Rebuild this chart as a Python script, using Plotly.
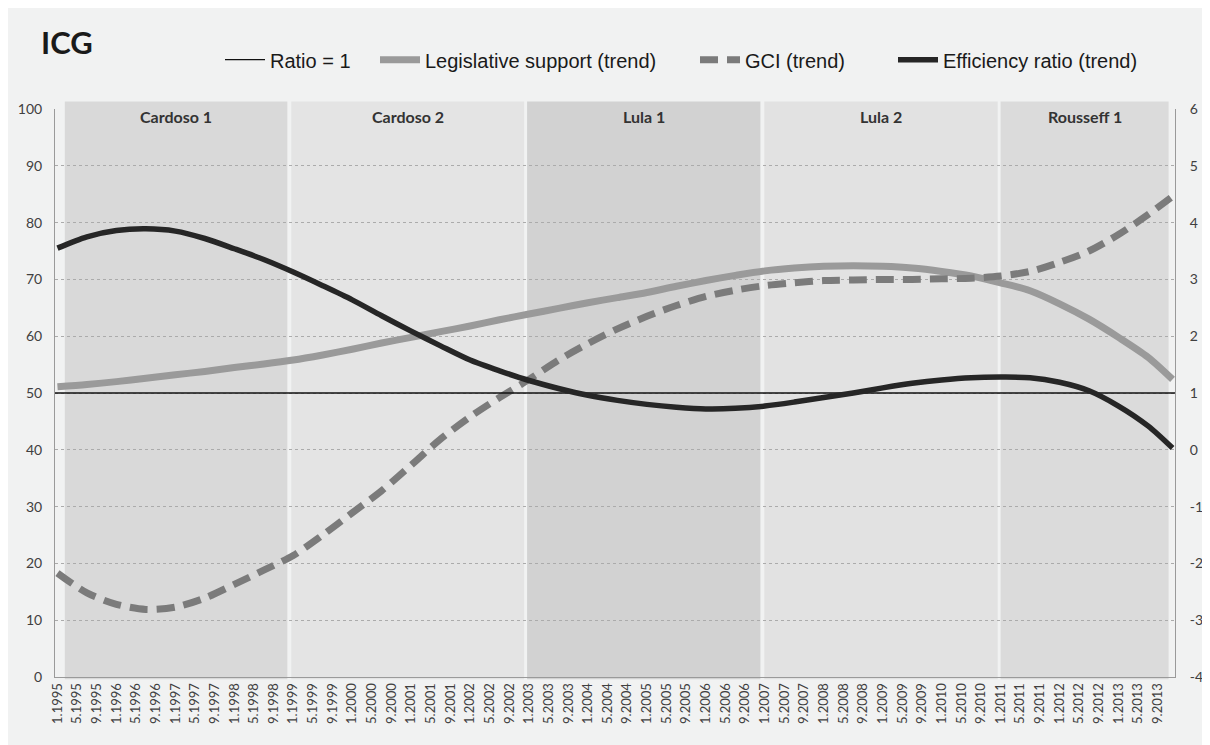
import plotly.graph_objects as go

# ---- data (x = month offset from Jan 1995) ----
month_idx = [0, 6, 12, 18, 24, 30, 36, 42, 48, 54, 60, 66, 72, 78, 84, 90, 96, 102, 108,
             114, 120, 126, 132, 138, 144, 150, 156, 162, 168, 174, 180, 186, 192, 198,
             204, 210, 216, 222, 227]

legislative_support = [51.1, 51.5, 52.0, 52.6, 53.2, 53.8, 54.5, 55.1, 55.8, 56.7, 57.7,
                       58.8, 59.8, 60.8, 61.8, 62.9, 63.9, 64.9, 65.9, 66.8, 67.7, 68.8,
                       69.8, 70.7, 71.5, 72.0, 72.3, 72.4, 72.3, 72.0, 71.4, 70.6, 69.4,
                       68.0, 65.7, 63.0, 59.8, 56.3, 52.4]

gci = [18.3, 14.8, 12.8, 11.9, 12.3, 13.9, 16.3, 18.8, 21.4, 25.0, 28.9, 32.8, 37.3, 41.9,
       45.8, 49.2, 52.4, 55.8, 58.7, 61.3, 63.5, 65.4, 67.0, 68.1, 68.9, 69.4, 69.8, 69.9,
       70.0, 70.0, 70.1, 70.2, 70.6, 71.4, 73.0, 75.0, 77.9, 81.4, 84.6]

efficiency_ratio = [3.55, 3.75, 3.86, 3.89, 3.85, 3.72, 3.54, 3.35, 3.13, 2.89, 2.64, 2.36,
                    2.09, 1.83, 1.58, 1.39, 1.22, 1.08, 0.96, 0.87, 0.80, 0.75, 0.72, 0.73,
                    0.77, 0.84, 0.92, 1.00, 1.09, 1.17, 1.23, 1.27, 1.28, 1.27, 1.19, 1.04,
                    0.77, 0.42, 0.03]

ratio_value = 1

years = list(range(1995, 2014))
tick_months = [1, 5, 9]
tick_labels = [f"{m}.{y}" for y in years for m in tick_months]
tick_positions = list(range(0, 4 * len(tick_labels), 4))

right_ticks = [-4, -3, -2, -1, 0, 1, 2, 3, 4, 5, 6]
right_tick_labels = ["-4", "-3", "-2", "-1", "0", "1", "2", "3", "4", "5", "6"]

terms = ["Cardoso 1", "Cardoso 2", "Lula 1", "Lula 2", "Rousseff 1"]
term_start = [1.5, 47.6, 95.6, 143.9, 192.0]
term_end = [46.8, 95.0, 143.1, 191.4, 226.2]
term_colors = ["#d9d9d9", "#e4e4e4", "#d2d2d2", "#e2e2e2", "#dbdbdb"]

BG = "#f1f2f2"
TICKFONT = dict(family="Lato, Open Sans, sans-serif", size=14, color="#404040")
LEGFONT = dict(family="Liberation Sans Narrow, Arial Narrow, Liberation Sans, sans-serif",
               size=20, color="#1a1a1a")

# figure-pixel geometry of the plot area (page is offset by the 8px body margin)
L, R, T, B, W, H = 47, 35, 101.3, 67.5, 1202, 737
PW = W - L - R
PH = H - T - B


def px_x(fx):
    return (fx - L) / PW


def px_y(fy):
    return (H - B - fy) / PH


fig = go.Figure()

fig.add_trace(go.Scatter(
    x=[-0.5, 227.5], y=[ratio_value, ratio_value], yaxis="y2", mode="lines",
    line=dict(color="#111111", width=1.3), name="Ratio = 1", legend="legend"))
fig.add_trace(go.Scatter(
    x=month_idx, y=legislative_support, mode="lines",
    line=dict(color="#9a9a9a", width=7, shape="spline", smoothing=0.8),
    name="Legislative support (trend)", legend="legend2"))
fig.add_trace(go.Scatter(
    x=month_idx, y=gci, mode="lines",
    line=dict(color="#7b7b7b", width=7, dash="18px,9px", shape="spline", smoothing=0.8),
    name="GCI (trend)", legend="legend3"))
fig.add_trace(go.Scatter(
    x=month_idx, y=efficiency_ratio, yaxis="y2", mode="lines",
    line=dict(color="#262626", width=5.5, shape="spline", smoothing=0.8),
    name="Efficiency ratio (trend)", legend="legend4"))

shapes = []
for s, e, c in zip(term_start, term_end, term_colors):
    shapes.append(dict(type="rect", xref="x", yref="paper", x0=s, x1=e,
                       y0=-0.004, y1=1.013, fillcolor=c, line=dict(width=0),
                       layer="below"))

annotations = [dict(text="<b>ICG</b>", xref="paper", yref="paper",
                    x=px_x(31), y=px_y(34),
                    xanchor="left", yanchor="middle", showarrow=False,
                    font=dict(family="Lato, sans-serif", size=31, color="#1a1a1a"))]
for t, s, e in zip(terms, term_start, term_end):
    annotations.append(dict(text=f"<b>{t}</b>", xref="x", yref="paper",
                            x=(s + e) / 2, y=px_y(109),
                            xanchor="center", yanchor="middle", showarrow=False,
                            font=dict(family="Lato, sans-serif", size=16, color="#333333")))


def leg(fx):
    return dict(orientation="h", x=px_x(fx), y=px_y(52), xanchor="left",
                yanchor="middle", bgcolor="rgba(0,0,0,0)", font=LEGFONT, itemwidth=40)


fig.update_layout(
    width=W, height=H,
    margin=dict(l=L, r=R, t=T, b=B, autoexpand=False),
    paper_bgcolor=BG, plot_bgcolor=BG,
    shapes=shapes, annotations=annotations,
    showlegend=True,
    legend=leg(212), legend2=leg(367), legend3=leg(687), legend4=leg(885),
    xaxis=dict(range=[-0.5, 227.5], tickvals=tick_positions, ticktext=tick_labels,
               tickangle=-90, showgrid=False, zeroline=False, showline=True,
               linecolor="#9a9a9a", linewidth=1, ticks="", automargin=False,
               tickfont=dict(family="Lato, Open Sans, sans-serif", size=13, color="#404040")),
    yaxis=dict(range=[0, 100], dtick=10, showgrid=True, gridcolor="#ababab",
               griddash="dot", gridwidth=1, zeroline=False, showline=True,
               linecolor="#9a9a9a", linewidth=1, ticks="", tickfont=TICKFONT,
               ticklabelstandoff=9, automargin=False),
    yaxis2=dict(range=[-4, 6], tickvals=right_ticks, ticktext=right_tick_labels,
                overlaying="y", side="right", showgrid=False,
                zeroline=False, showline=True, linecolor="#9a9a9a", linewidth=1,
                ticks="", tickfont=TICKFONT, ticklabelstandoff=11, automargin=False),
)

fig.write_html("out.html")
